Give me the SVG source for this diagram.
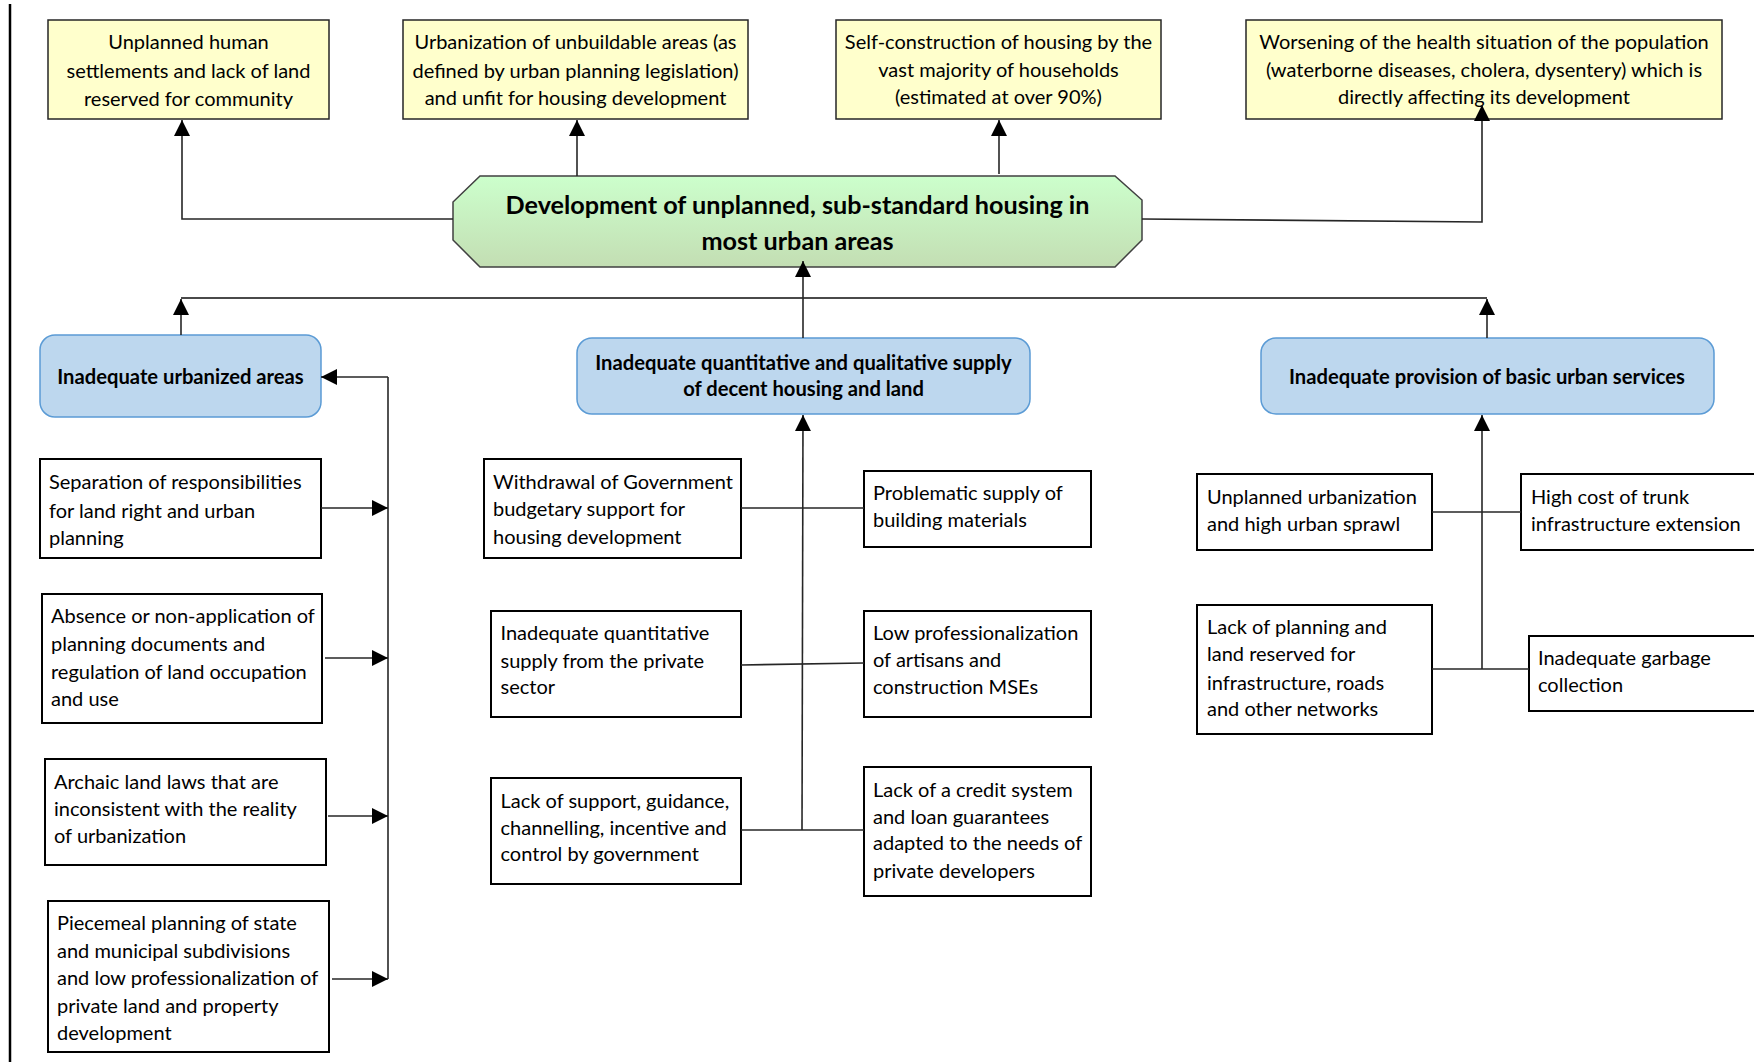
<svg xmlns="http://www.w3.org/2000/svg" width="1754" height="1062" viewBox="0 0 1754 1062">
  <defs>
    <style>
      .yel { fill: #FFFFCC; stroke: #262626; stroke-width: 1.5; }
      .wht { fill: #FFFFFF; stroke: #000000; stroke-width: 2; }
      .blu { fill: #BDD7EE; stroke: #5B9BD5; stroke-width: 1.5; }
      .oct { fill: url(#octFill); stroke: #404040; stroke-width: 1.5; }
      .txt { font-family: Lato, "Open Sans", sans-serif; font-size: 20px; fill: #000000; }
      .mid { text-anchor: middle; }
      .hb { font-weight: bold; font-size: 20.2px; }
      .ttl { font-weight: bold; font-size: 25.2px; }
      .con { fill: none; stroke: #262626; stroke-width: 1.6; }
      .bus { fill: none; stroke: #4a4a4a; stroke-width: 2; }
    </style>
    <linearGradient id="octFill" x1="0" y1="0" x2="0" y2="1">
      <stop offset="0" stop-color="#CCFFCC"/>
      <stop offset="1" stop-color="#C3DEB3"/>
    </linearGradient>
    <marker id="arrow" markerUnits="userSpaceOnUse" markerWidth="16" markerHeight="16" refX="16" refY="8" orient="auto">
      <path d="M0,0 L16,8 L0,16 z" fill="#000000"/>
    </marker>
  </defs>

  <!-- page rule on the left margin -->
  <line x1="10" y1="4" x2="10" y2="1062" stroke="#000000" stroke-width="2.5"/>

  <!-- consequences (top row) -->
  <g id="effect-settlements">
    <rect class="yel" x="48" y="20" width="281" height="99"/>
    <text class="txt mid"><tspan x="188.5" y="49">Unplanned human</tspan><tspan x="188.5" y="78">settlements and lack of land</tspan><tspan x="188.5" y="106">reserved for community</tspan></text>
  </g>
  <g id="effect-unbuildable">
    <rect class="yel" x="403" y="20" width="345" height="99"/>
    <text class="txt mid"><tspan x="575.5" y="49">Urbanization of unbuildable areas (as</tspan><tspan x="575.5" y="78">defined by urban planning legislation)</tspan><tspan x="575.5" y="105">and unfit for housing development</tspan></text>
  </g>
  <g id="effect-selfconstruction">
    <rect class="yel" x="836" y="20" width="325" height="99"/>
    <text class="txt mid"><tspan x="998.5" y="49">Self-construction of housing by the</tspan><tspan x="998.5" y="77">vast majority of households</tspan><tspan x="998.5" y="104">(estimated at over 90%)</tspan></text>
  </g>
  <g id="effect-health">
    <rect class="yel" x="1246" y="20" width="476" height="99"/>
    <text class="txt mid"><tspan x="1484" y="49">Worsening of the health situation of the population</tspan><tspan x="1484" y="77">(waterborne diseases, cholera, dysentery) which is</tspan><tspan x="1484" y="104">directly affecting its development</tspan></text>
  </g>

  <!-- core problem -->
  <g id="core-problem">
    <polygon class="oct" points="480,176 1115,176 1142,200 1142,240 1115,267 480,267 453,240 453,202"/>
    <text class="txt ttl mid"><tspan x="797.5" y="214">Development of unplanned, sub-standard housing in</tspan><tspan x="797.5" y="250">most urban areas</tspan></text>
  </g>

  <!-- main causes -->
  <g id="cause-urbanized">
    <rect class="blu" x="40" y="335" width="281" height="82" rx="15"/>
    <text class="txt hb mid" x="180.5" y="384">Inadequate urbanized areas</text>
  </g>
  <g id="cause-supply">
    <rect class="blu" x="577" y="338" width="453" height="76" rx="15"/>
    <text class="txt hb mid"><tspan x="803.5" y="370">Inadequate quantitative and qualitative supply</tspan><tspan x="803.5" y="396">of decent housing and land</tspan></text>
  </g>
  <g id="cause-services">
    <rect class="blu" x="1261" y="338" width="453" height="76" rx="15"/>
    <text class="txt hb mid" x="1487" y="384">Inadequate provision of basic urban services</text>
  </g>

  <!-- sub-causes: urbanized areas -->
  <g id="sub-separation">
    <rect class="wht" x="40" y="459" width="281" height="99"/>
    <text class="txt"><tspan x="49" y="489">Separation of responsibilities</tspan><tspan x="49" y="518">for land right and urban</tspan><tspan x="49" y="545">planning</tspan></text>
  </g>
  <g id="sub-absence">
    <rect class="wht" x="42" y="594" width="280" height="129"/>
    <text class="txt"><tspan x="51" y="623">Absence or non-application of</tspan><tspan x="51" y="651">planning documents and</tspan><tspan x="51" y="679">regulation of land occupation</tspan><tspan x="51" y="706">and use</tspan></text>
  </g>
  <g id="sub-archaic">
    <rect class="wht" x="45" y="759" width="281" height="106"/>
    <text class="txt"><tspan x="54" y="789">Archaic land laws that are</tspan><tspan x="54" y="816">inconsistent with the reality</tspan><tspan x="54" y="843">of urbanization</tspan></text>
  </g>
  <g id="sub-piecemeal">
    <rect class="wht" x="48" y="901" width="281" height="151"/>
    <text class="txt"><tspan x="57" y="930">Piecemeal planning of state</tspan><tspan x="57" y="958">and municipal subdivisions</tspan><tspan x="57" y="985">and low professionalization of</tspan><tspan x="57" y="1013">private land and property</tspan><tspan x="57" y="1040">development</tspan></text>
  </g>

  <!-- sub-causes: housing and land supply -->
  <g id="sub-withdrawal">
    <rect class="wht" x="484" y="459" width="257" height="99"/>
    <text class="txt"><tspan x="493" y="489">Withdrawal of Government</tspan><tspan x="493" y="516">budgetary support for</tspan><tspan x="493" y="544">housing development</tspan></text>
  </g>
  <g id="sub-materials">
    <rect class="wht" x="864" y="471" width="227" height="76"/>
    <text class="txt"><tspan x="873" y="500">Problematic supply of</tspan><tspan x="873" y="527">building materials</tspan></text>
  </g>
  <g id="sub-private">
    <rect class="wht" x="491" y="611" width="250" height="106"/>
    <text class="txt"><tspan x="500.5" y="640">Inadequate quantitative</tspan><tspan x="500.5" y="668">supply from the private</tspan><tspan x="500.5" y="694">sector</tspan></text>
  </g>
  <g id="sub-artisans">
    <rect class="wht" x="864" y="611" width="227" height="106"/>
    <text class="txt"><tspan x="873" y="640">Low professionalization</tspan><tspan x="873" y="667">of artisans and</tspan><tspan x="873" y="694">construction MSEs</tspan></text>
  </g>
  <g id="sub-support">
    <rect class="wht" x="491" y="778" width="250" height="106"/>
    <text class="txt"><tspan x="500.5" y="808">Lack of support, guidance,</tspan><tspan x="500.5" y="835">channelling, incentive and</tspan><tspan x="500.5" y="861">control by government</tspan></text>
  </g>
  <g id="sub-credit">
    <rect class="wht" x="864" y="767" width="227" height="129"/>
    <text class="txt"><tspan x="873" y="797">Lack of a credit system</tspan><tspan x="873" y="824">and loan guarantees</tspan><tspan x="873" y="850">adapted to the needs of</tspan><tspan x="873" y="878">private developers</tspan></text>
  </g>

  <!-- sub-causes: urban services -->
  <g id="sub-sprawl">
    <rect class="wht" x="1197" y="474" width="235" height="76"/>
    <text class="txt"><tspan x="1207" y="504">Unplanned urbanization</tspan><tspan x="1207" y="531">and high urban sprawl</tspan></text>
  </g>
  <g id="sub-trunk">
    <rect class="wht" x="1521" y="474" width="260" height="76"/>
    <text class="txt"><tspan x="1531" y="504">High cost of trunk</tspan><tspan x="1531" y="531">infrastructure extension</tspan></text>
  </g>
  <g id="sub-networks">
    <rect class="wht" x="1197" y="605" width="235" height="129"/>
    <text class="txt"><tspan x="1207" y="634">Lack of planning and</tspan><tspan x="1207" y="661">land reserved for</tspan><tspan x="1207" y="690">infrastructure, roads</tspan><tspan x="1207" y="716">and other networks</tspan></text>
  </g>
  <g id="sub-garbage">
    <rect class="wht" x="1529" y="636" width="260" height="75"/>
    <text class="txt"><tspan x="1538" y="665">Inadequate garbage</tspan><tspan x="1538" y="692">collection</tspan></text>
  </g>

  <!-- connectors -->
  <g id="connectors">
    <!-- core problem to consequences -->
    <polyline class="con" points="453,219 182,219 182,120" marker-end="url(#arrow)"/>
    <polyline class="con" points="577,176 577,120" marker-end="url(#arrow)"/>
    <polyline class="con" points="999,174 999,120" marker-end="url(#arrow)"/>
    <polyline class="con" points="1142,219 1482,222 1482,105" marker-end="url(#arrow)"/>

    <!-- main causes to core problem -->
    <line class="bus" x1="181" y1="298" x2="1487" y2="298"/>
    <polyline class="con" points="181,335 181,299" marker-end="url(#arrow)"/>
    <polyline class="con" points="1487,338 1487,299" marker-end="url(#arrow)"/>
    <polyline class="con" points="803,338 803,261" marker-end="url(#arrow)"/>

    <!-- urbanized areas column -->
    <polyline class="con" points="388,377 321,377" marker-end="url(#arrow)"/>
    <line class="con" x1="388" y1="377" x2="388" y2="979"/>
    <polyline class="con" points="321,508 388,508" marker-end="url(#arrow)"/>
    <polyline class="con" points="325,658 388,658" marker-end="url(#arrow)"/>
    <polyline class="con" points="328,816 388,816" marker-end="url(#arrow)"/>
    <polyline class="con" points="332,979 388,979" marker-end="url(#arrow)"/>

    <!-- housing and land supply column -->
    <polyline class="con" points="802,830 803,415" marker-end="url(#arrow)"/>
    <line class="con" x1="741" y1="508" x2="864" y2="508"/>
    <line class="con" x1="741" y1="665" x2="864" y2="663"/>
    <line class="con" x1="741" y1="830" x2="864" y2="830"/>

    <!-- urban services column -->
    <polyline class="con" points="1482,669 1482,415" marker-end="url(#arrow)"/>
    <line class="con" x1="1432" y1="512" x2="1521" y2="512"/>
    <line class="con" x1="1432" y1="669" x2="1529" y2="669"/>
  </g>
</svg>
